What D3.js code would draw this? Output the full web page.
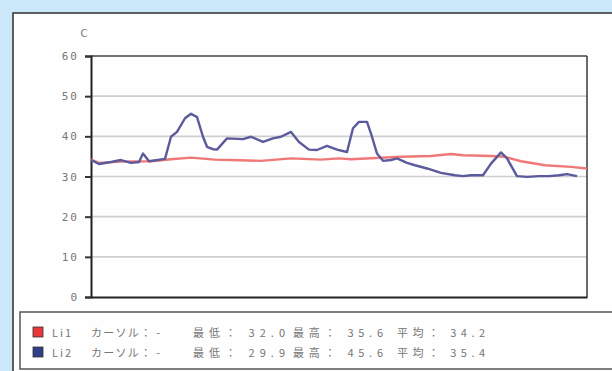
<!DOCTYPE html>
<html><head><meta charset="utf-8">
<script src="https://cdn.jsdelivr.net/npm/d3@7"></script>
<style>
html,body{margin:0;padding:0;background:#cce9fb;}
svg{display:block;}
</style></head>
<body>
<script>
// ---- data ----
const yTicks = [0, 10, 20, 30, 40, 50, 60];
const yUnit = "C";
const li2Time = [0,4,10,15,20,24,26,29,37,40,43,47,50,53,56,58,61,63,68,76,80,86,91,95,100,104,109,113,118,123,128,131,134,138,140,143,146,150,153,158,162,168,175,182,186,190,196,200,205,208,213,218,224,229,234,238,243];
const li2Values = [34.1,33.1,33.6,34.1,33.4,33.6,35.7,33.8,34.4,39.9,41.1,44.5,45.6,44.8,39.9,37.4,36.8,36.7,39.5,39.3,39.9,38.6,39.5,39.9,41.1,38.6,36.7,36.6,37.6,36.7,36.1,42.0,43.6,43.6,40.7,35.7,33.9,34.1,34.5,33.4,32.8,32.0,30.9,30.3,30.1,30.3,30.3,33.2,36.0,34.5,30.1,29.9,30.1,30.1,30.3,30.6,30.1];
const li1Time = [0,4,15,30,40,50,62,70,85,100,115,124,130,155,170,180,186,200,207,215,227,240,248];
const li1Values = [34.2,33.4,33.7,33.8,34.3,34.7,34.2,34.1,33.9,34.5,34.2,34.5,34.3,34.9,35.1,35.6,35.3,35.1,34.9,33.8,32.8,32.4,32.0];
const seriesNames = ["Li1", "Li2"];
const seriesColors = ["#f07878", "#5b5a9c"];
const legendSwatch = ["#e8363a", "#2f3f88"];
const legendLabels = ["カーソル： -", "最低： ", "最高： ", "平均： "];
const legendStats = [["32.0", "35.6", "34.2"], ["29.9", "45.6", "35.4"]];
const timeMax = 248;

// ---- drawing ----
const W = 612, H = 371;
const svg = d3.select("body").append("svg").attr("width", W).attr("height", H);

svg.append("rect").attr("x", 13).attr("y", 13).attr("width", 620).attr("height", 380)
  .attr("fill", "#fefefe").attr("stroke", "#3a3a3a").attr("stroke-width", 1.6);

const m = {left: 91, right: 587, top: 56, bottom: 297};
const x = d3.scaleLinear().domain([0, timeMax]).range([m.left, m.right]);
const y = d3.scaleLinear().domain([0, 60]).range([m.bottom, m.top]);

// grid
svg.append("g").selectAll("line").data(yTicks.filter(t => t > 0 && t < 60)).join("line")
  .attr("x1", m.left).attr("x2", m.right)
  .attr("y1", d => y(d)).attr("y2", d => y(d))
  .attr("stroke", "#cfcfcf").attr("stroke-width", 1.6);

// frame top/right
svg.append("line").attr("x1", m.left).attr("x2", m.right).attr("y1", m.top).attr("y2", m.top)
  .attr("stroke", "#444").attr("stroke-width", 1.6);
svg.append("line").attr("x1", m.right).attr("x2", m.right).attr("y1", m.top).attr("y2", m.bottom)
  .attr("stroke", "#444").attr("stroke-width", 1.6);

// y axis
const yAxis = d3.axisLeft(y).tickValues(yTicks).tickSize(6).tickPadding(6).tickFormat(d3.format("d"));
const gy = svg.append("g").attr("transform", `translate(${m.left},0)`).call(yAxis);
gy.select(".domain").attr("stroke", "#222").attr("stroke-width", 2);
gy.selectAll(".tick line").attr("stroke", "#333").attr("stroke-width", 2);
gy.selectAll(".tick text").attr("fill", "#777").style("font-family", "DejaVu Sans Mono, monospace")
  .style("font-size", "11px").style("letter-spacing", "2px");

// bottom axis line
const xAxis = d3.axisBottom(x).tickValues([]).tickSizeOuter(0);
const gx = svg.append("g").attr("transform", `translate(0,${m.bottom})`).call(xAxis);
gx.select(".domain").attr("stroke", "#222").attr("stroke-width", 2);

svg.append("text").attr("x", 84).attr("y", 37).attr("text-anchor", "middle")
  .attr("fill", "#777").style("font-family", "DejaVu Sans, sans-serif").style("font-size", "10px").text(yUnit);

// lines
const line = d3.line().x(d => x(d[0])).y(d => y(d[1])).curve(d3.curveLinear);
const li1 = li1Time.map((t, i) => [t, li1Values[i]]);
const li2 = li2Time.map((t, i) => [t, li2Values[i]]);
svg.append("path").datum(li1).attr("d", line).attr("fill", "none")
  .attr("stroke", seriesColors[0]).attr("stroke-width", 2.4).attr("stroke-linejoin", "round");
svg.append("path").datum(li2).attr("d", line).attr("fill", "none")
  .attr("stroke", seriesColors[1]).attr("stroke-width", 2.4).attr("stroke-linejoin", "round");

// legend
svg.append("rect").attr("x", 20).attr("y", 312).attr("width", 600).attr("height", 57)
  .attr("fill", "#fefefe").attr("stroke", "#555").attr("stroke-width", 1.5);

const rowY = [332, 352];
const segX = [91, 193, 293, 397];
const segW = [69, 92, 90, 88];
seriesNames.forEach((name, i) => {
  const g = svg.append("g");
  g.append("rect").attr("x", 33).attr("y", rowY[i] - 5).attr("width", 10).attr("height", 10)
    .attr("fill", legendSwatch[i]).attr("stroke", "#333").attr("stroke-width", 0.8);
  const tstyle = s => s.attr("fill", "#777").attr("dominant-baseline", "central")
    .style("font-family", "'Noto Sans CJK JP', sans-serif").style("font-size", "11px");
  g.append("text").attr("x", 52).attr("y", rowY[i]).attr("textLength", 19).attr("lengthAdjust", "spacing")
    .call(tstyle).text(name);
  legendLabels.forEach((lab, j) => {
    const txt = j === 0 ? lab : lab + legendStats[i][j - 1];
    g.append("text").attr("x", segX[j]).attr("y", rowY[i]).attr("textLength", segW[j])
      .attr("lengthAdjust", "spacing").call(tstyle).text(txt);
  });
});
</script>
</body></html>
